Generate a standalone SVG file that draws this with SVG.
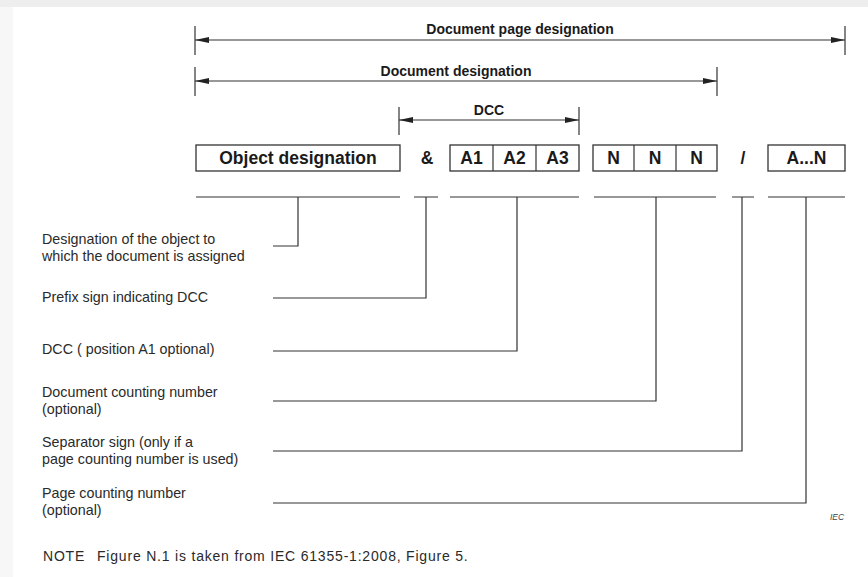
<svg xmlns="http://www.w3.org/2000/svg" width="868" height="577" viewBox="0 0 868 577">
  <defs>
    <linearGradient id="edgeShade" x1="0" y1="0" x2="1" y2="0">
      <stop offset="0" stop-color="#f7f7f7"/>
      <stop offset="1" stop-color="#ededed"/>
    </linearGradient>
    <marker id="arrowHead" viewBox="0 0 14 6" refX="14" refY="3" markerWidth="14" markerHeight="6" markerUnits="userSpaceOnUse" orient="auto-start-reverse">
      <path d="M0,0 L14,3 L0,6 Z" fill="#222"/>
    </marker>
    <style>
      .heading { font-family: "Liberation Sans", Arial, sans-serif; font-weight: bold; font-size: 14px; fill: #1a1a1a; text-anchor: middle; }
      .cell { font-family: "Liberation Sans", Arial, sans-serif; font-weight: bold; font-size: 17.5px; fill: #1a1a1a; text-anchor: middle; }
      .label { font-family: "Liberation Sans", Arial, sans-serif; font-size: 14.3px; fill: #2a2a2a; }
      .note { font-family: "Liberation Sans", Arial, sans-serif; font-size: 14px; fill: #2a2a2a; letter-spacing: 0.8px; }
      .mark { font-family: "Liberation Sans", Arial, sans-serif; font-style: italic; font-size: 8.5px; fill: #444; }
      .box { fill: #fff; stroke: #333; stroke-width: 1.3; }
      .line { fill: none; stroke: #333; stroke-width: 1.2; }
      .dim { fill: none; stroke: #333; stroke-width: 1.1; marker-start: url(#arrowHead); marker-end: url(#arrowHead); }
    </style>
  </defs>

  <!-- page background with shaded edges -->
  <rect x="0" y="0" width="868" height="577" fill="url(#edgeShade)"/>
  <rect x="0" y="0" width="868" height="7" fill="#eeeeee"/>
  <rect x="13" y="7" width="855" height="570" fill="#ffffff"/>

  <!-- dimension lines with headings -->
  <g id="dimensions">
    <g id="dim-document-page">
      <line class="line" x1="195" y1="26" x2="195" y2="55"/>
      <line class="line" x1="845" y1="26" x2="845" y2="55"/>
      <line class="dim" x1="195" y1="40" x2="845" y2="40"/>
      <text class="heading" x="520" y="34">Document page designation</text>
    </g>
    <g id="dim-document">
      <line class="line" x1="195" y1="67" x2="195" y2="96"/>
      <line class="line" x1="717" y1="67" x2="717" y2="96"/>
      <line class="dim" x1="195" y1="81" x2="717" y2="81"/>
      <text class="heading" x="456" y="76">Document designation</text>
    </g>
    <g id="dim-dcc">
      <line class="line" x1="399" y1="107" x2="399" y2="135"/>
      <line class="line" x1="579" y1="107" x2="579" y2="135"/>
      <line class="dim" x1="399" y1="120" x2="579" y2="120"/>
      <text class="heading" x="489" y="115">DCC</text>
    </g>
  </g>

  <!-- designation fields -->
  <g id="object-designation">
    <rect class="box" x="196" y="145" width="204" height="26"/>
    <text class="cell" x="298" y="164">Object designation</text>
  </g>
  <g id="prefix-sign">
    <text class="cell" x="427" y="164">&amp;</text>
  </g>
  <g id="dcc-fields">
    <rect class="box" x="450" y="145" width="129" height="26"/>
    <line class="line" x1="493" y1="145" x2="493" y2="171"/>
    <line class="line" x1="536" y1="145" x2="536" y2="171"/>
    <text class="cell" x="471.5" y="164">A1</text>
    <text class="cell" x="514.5" y="164">A2</text>
    <text class="cell" x="557.5" y="164">A3</text>
  </g>
  <g id="counting-fields">
    <rect class="box" x="593" y="145" width="124" height="26"/>
    <line class="line" x1="634" y1="145" x2="634" y2="171"/>
    <line class="line" x1="676" y1="145" x2="676" y2="171"/>
    <text class="cell" x="613.5" y="164">N</text>
    <text class="cell" x="655" y="164">N</text>
    <text class="cell" x="696.5" y="164">N</text>
  </g>
  <g id="separator-sign">
    <text class="cell" x="743" y="164">/</text>
  </g>
  <g id="page-counting">
    <rect class="box" x="768" y="145" width="77" height="26"/>
    <text class="cell" x="806.5" y="164">A...N</text>
  </g>

  <!-- leader lines from each field to its explanation -->
  <g id="connectors">
    <path class="line" d="M196,197 H400 M298,197 V246 H273"/>
    <path class="line" d="M414,197 H438 M426,197 V298 H273"/>
    <path class="line" d="M450,197 H579 M517,197 V351 H273"/>
    <path class="line" d="M594,197 H716 M656,197 V401 H273"/>
    <path class="line" d="M732,197 H754 M742,197 V451 H273"/>
    <path class="line" d="M768,197 H845 M806,197 V503 H273"/>
  </g>

  <!-- explanations -->
  <g id="explanations">
    <text class="label" x="42" y="244">Designation of the object to</text>
    <text class="label" x="42" y="261">which the document is assigned</text>
    <text class="label" x="42" y="302">Prefix sign indicating DCC</text>
    <text class="label" x="42" y="354">DCC ( position A1 optional)</text>
    <text class="label" x="42" y="397">Document counting number</text>
    <text class="label" x="42" y="414">(optional)</text>
    <text class="label" x="42" y="447">Separator sign (only if a</text>
    <text class="label" x="42" y="464">page counting number is used)</text>
    <text class="label" x="42" y="498">Page counting number</text>
    <text class="label" x="42" y="515">(optional)</text>
  </g>

  <text class="mark" x="830" y="520">IEC</text>
  <text class="note" y="561"><tspan x="43">NOTE</tspan><tspan x="97">Figure N.1 is taken from IEC 61355-1:2008, Figure 5.</tspan></text>
</svg>
